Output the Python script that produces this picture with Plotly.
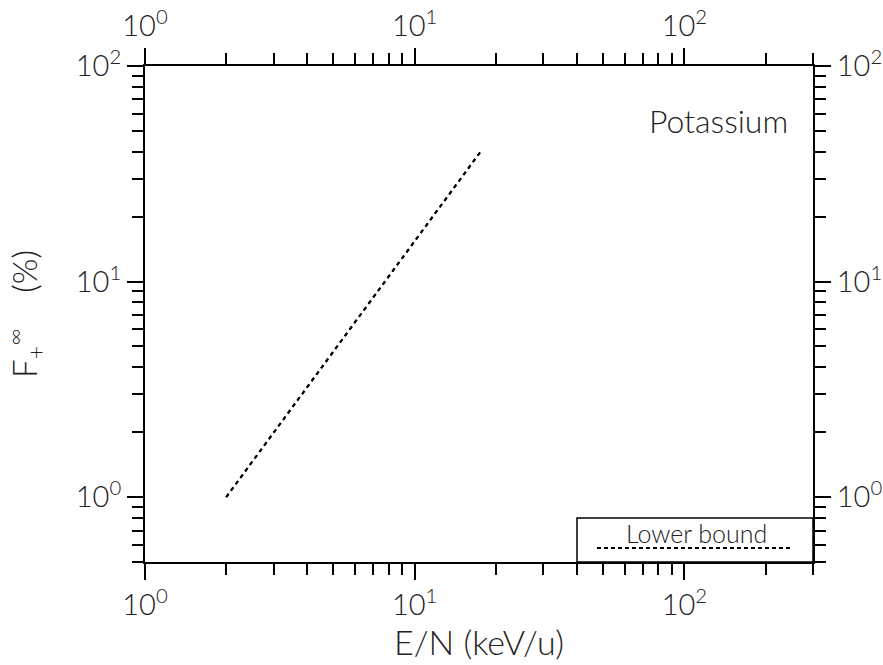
import math
import plotly.graph_objects as go

# ---- data ----
energy_kev_u = [2.0, 17.8]          # E/N (keV/u)
lower_bound_pct = [1.0, 41.0]       # F+^inf (%)
series_name = "Lower bound"
element = "Potassium"

x_tick_vals = [1, 10, 100]
x_tick_text = ["10<sup>0</sup>", "10<sup>1</sup>", "10<sup>2</sup>"]
y_tick_vals = [1, 10, 100]
y_tick_text = ["10<sup>0</sup>", "10<sup>1</sup>", "10<sup>2</sup>"]
x_minor_vals = [2, 3, 4, 5, 6, 7, 8, 9, 20, 30, 40, 50, 60, 70, 80, 90, 200, 300]
y_minor_vals = [0.5, 0.6, 0.7, 0.8, 0.9, 2, 3, 4, 5, 6, 7, 8, 9, 20, 30, 40, 50, 60, 70, 80, 90]
x_range = [1, 300]
y_range = [0.5, 100]

FONT = "Lato, 'Liberation Sans', sans-serif"
INK = "#222222"
W = 300

fig = go.Figure()
fig.add_trace(go.Scatter(
    x=energy_kev_u, y=lower_bound_pct, mode="lines", name=series_name,
    line=dict(color="black", width=2, dash="4px,4px"), showlegend=False,
))
# same trace on the mirrored axes so the top/right axes are drawn
fig.add_trace(go.Scatter(
    x=energy_kev_u, y=lower_bound_pct, mode="lines", name=series_name,
    line=dict(color="black", width=2, dash="4px,4px"), showlegend=False,
    xaxis="x2", yaxis="y2", hoverinfo="skip",
))

def axis_common(rng, tv, tt, mv):
    return dict(
        type="log", range=[math.log10(v) for v in rng], automargin=False,
        showline=True, linecolor="black", linewidth=2,
        ticks="outside", ticklen=16, tickwidth=1.5, tickcolor="black",
        tickvals=tv, ticktext=tt,
        minor=dict(ticks="outside", ticklen=11, tickwidth=1.5, tickcolor="black",
                   tickvals=mv, showgrid=False),
        showgrid=False, zeroline=False,
        tickfont=dict(family=FONT, size=29, color=INK, weight=W),
    )

NB = "\u00a0"
xa = axis_common(x_range, x_tick_vals, x_tick_text, x_minor_vals)
xa.update(title=dict(text="E/N (keV/u)", font=dict(family=FONT, size=34, color=INK, weight=W), standoff=0))
xa2 = axis_common(x_range, x_tick_vals, x_tick_text, x_minor_vals)
xa2.update(overlaying="x", side="top", matches="x")
ya = axis_common(y_range, y_tick_vals, y_tick_text, y_minor_vals)
ya.update(title=dict(text="F<sub>+</sub><sup>∞</sup>" + NB * 4 + "(%)",
                     font=dict(family=FONT, size=33, color=INK, weight=W), standoff=28))
ya2 = axis_common(y_range, y_tick_vals, y_tick_text, y_minor_vals)
ya2.update(overlaying="y", side="right", matches="y")

fig.update_layout(
    width=883, height=665,
    margin=dict(l=145, r=70, t=66, b=103, autoexpand=False),
    paper_bgcolor="white", plot_bgcolor="white",
    xaxis=xa, xaxis2=xa2, yaxis=ya, yaxis2=ya2,
    font=dict(family=FONT, color=INK),
    showlegend=False,
)

# element label
fig.add_annotation(text=element, xref="paper", yref="paper", x=0.966, y=0.891,
                   xanchor="right", yanchor="middle", showarrow=False,
                   font=dict(family=FONT, size=32, color=INK, weight=W))

# legend box (text above a dashed key line)
fig.add_shape(type="rect", xref="paper", yref="paper", x0=0.6467, x1=1.0, y0=0.0, y1=0.0887,
              line=dict(color="black", width=1.5), fillcolor="white", layer="above")
fig.add_shape(type="line", xref="paper", yref="paper", x0=0.6766, x1=0.970, y0=0.0282, y1=0.0282,
              line=dict(color="black", width=2, dash="4px,3px"), layer="above")
fig.add_annotation(text=series_name, xref="paper", yref="paper", x=0.8249, y=0.0585,
                   xanchor="center", yanchor="middle", showarrow=False,
                   font=dict(family=FONT, size=25, color=INK, weight=W))

fig.write_html("out.html", config={"displayModeBar": False},
               post_script="document.body.style.margin='0';document.body.style.overflow='hidden';")
